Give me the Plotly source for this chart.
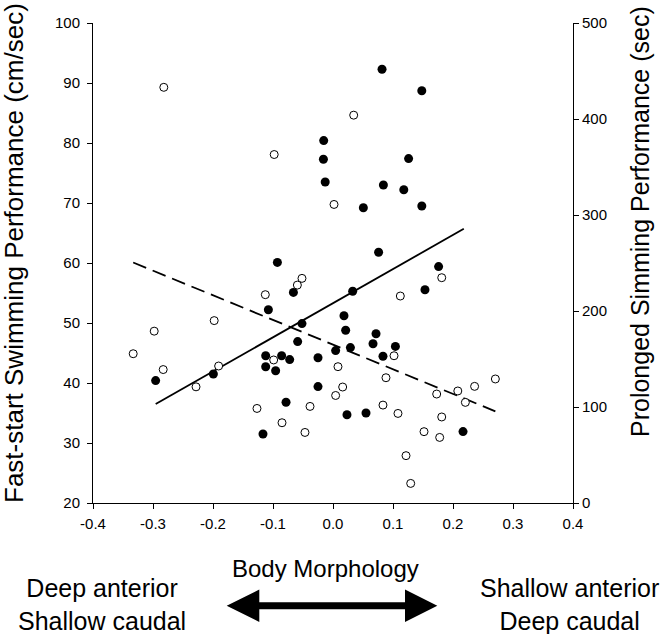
import plotly.graph_objects as go

# Fast-start swimming performance (cm/sec), filled circles, left axis
fast_x = [-0.0155, -0.016, -0.013, -0.0927, 0.0817, 0.148, 0.126, 0.084, 0.118, 0.0506,
          0.148, 0.076, -0.066, -0.1077, -0.0517, -0.0589, -0.1122, -0.0856, -0.0722, -0.025,
          0.0044, -0.1122, -0.0956, -0.2956, -0.1994, -0.025, -0.0783, -0.1167, 0.176, 0.0328,
          0.1533, 0.0183, 0.0211, 0.0717, 0.0667, 0.104, 0.029, 0.0833, 0.0233, 0.055, 0.2167]
fast_y = [80.4, 77.3, 73.5, 60.1, 92.3, 88.7, 77.4, 73.0, 72.2, 69.2,
          69.5, 61.8, 55.1, 52.2, 49.9, 46.9, 44.55, 44.55, 43.9, 44.2,
          45.4, 42.7, 42.05, 40.4, 41.5, 39.4, 36.8, 31.5, 59.4, 55.3,
          55.55, 51.2, 48.8, 48.2, 46.55, 46.1, 45.9, 44.45, 34.7, 35.0, 31.9]

# Prolonged swimming performance (sec), open circles, right axis
prol_x = [-0.282, -0.098, 0.0017, 0.0345, -0.0517, -0.0594, -0.1128, -0.198, -0.298, -0.333,
          -0.0989, 0.0083, -0.283, -0.1906, -0.2283, 0.0044, -0.0383, -0.1267, -0.085, -0.0467,
          0.1812, 0.1122, 0.1017, 0.0883, 0.0161, 0.2706, 0.236, 0.208, 0.1728, 0.2206,
          0.0833, 0.1083, 0.1812, 0.1517, 0.1778, 0.1217, 0.1295]
prol_y = [433, 363, 311, 404, 234, 227, 217, 190, 179, 155.5,
          149, 142, 139, 142.7, 121, 112, 100.6, 98.5, 83.6, 73.5,
          234.7, 215.6, 153.4, 130.5, 120.8, 129.2, 121.5, 116.7, 113.5, 104.8,
          102, 93.3, 89.6, 74.3, 68.3, 49.3, 20.4]

# Regression lines
fast_fit_x = [-0.2955, 0.218]
fast_fit_y = [36.5, 65.7]
prol_fit_x = [-0.333, 0.2706]
prol_fit_y = [250.5, 95.5]

x_ticks = [-0.4, -0.3, -0.2, -0.1, 0.0, 0.1, 0.2, 0.3, 0.4]
x_tick_text = ["-0.4", "-0.3", "-0.2", "-0.1", "0.0", "0.1", "0.2", "0.3", "0.4"]
y_ticks = [20, 30, 40, 50, 60, 70, 80, 90, 100]
y2_ticks = [0, 100, 200, 300, 400, 500]

FONT = "Liberation Sans, Arial, sans-serif"
W, H = 666, 634
L, R, T, B = 93, 93, 23, 131

fig = go.Figure()
fig.add_trace(go.Scatter(x=fast_fit_x, y=fast_fit_y, mode="lines",
                         line=dict(color="black", width=1.8), showlegend=False))
fig.add_trace(go.Scatter(x=prol_fit_x, y=prol_fit_y, mode="lines", yaxis="y2",
                         line=dict(color="black", width=1.8, dash="14px,7px"), showlegend=False))
fig.add_trace(go.Scatter(x=fast_x, y=fast_y, mode="markers",
                         marker=dict(color="black", size=9, line=dict(width=0)),
                         showlegend=False))
fig.add_trace(go.Scatter(x=prol_x, y=prol_y, mode="markers", yaxis="y2",
                         marker=dict(color="white", size=8, line=dict(color="black", width=1)),
                         showlegend=False))

axis_common = dict(showgrid=False, zeroline=False, showline=True, linecolor="black",
                   linewidth=1, ticks="outside", ticklen=5, tickcolor="black",
                   tickfont=dict(family=FONT, size=15, color="black"))

fig.update_layout(
    width=W, height=H,
    margin=dict(l=L, r=R, t=T, b=B),
    paper_bgcolor="white", plot_bgcolor="white",
    xaxis=dict(range=[-0.4, 0.4], tickvals=x_ticks, ticktext=x_tick_text,
               ticklabelstandoff=2, **axis_common),
    yaxis=dict(range=[20, 100], tickvals=y_ticks, ticklabelstandoff=4, **axis_common),
    yaxis2=dict(range=[0, 500], tickvals=y2_ticks, overlaying="y", side="right", **axis_common),
)

pw, ph = W - L - R, H - T - B


def px(x, y):
    return (x - L) / pw, (H - B - y) / ph


# axis titles as annotations (pixel-placed)
titles = [
    ("Fast-start Swimming Performance (cm/sec)", 14, 253, -90, 26),
    ("Prolonged Simming Performance (sec)", 640, 222, -90, 25),
    ("Body Morphology", 325, 568, 0, 24),
]
for text, cx, cy, ang, fs in titles:
    ax, ay = px(cx, cy)
    fig.add_annotation(x=ax, y=ay, xref="paper", yref="paper", text=text, showarrow=False,
                       textangle=ang, xanchor="center", yanchor="middle",
                       font=dict(family=FONT, size=fs, color="black"))

pts = [(226.7, 605.7), (259.3, 589.5), (259.3, 602.2), (405, 602.2), (405, 589.5),
       (437.3, 605.7), (405, 621.9), (405, 609.2), (259.3, 609.2), (259.3, 621.9)]
path = "M " + " L ".join(f"{px(a, b)[0]:.5f},{px(a, b)[1]:.5f}" for a, b in pts) + " Z"
fig.add_shape(type="path", xref="paper", yref="paper", path=path,
              fillcolor="black", line=dict(color="black", width=0))

for text, cx in [("Deep anterior<br>Shallow caudal", 102), ("Shallow anterior<br>Deep caudal", 569)]:
    ax, ay = px(cx, 604)
    fig.add_annotation(x=ax, y=ay, xref="paper", yref="paper", text=text, showarrow=False,
                       xanchor="center", yanchor="middle", align="center",
                       font=dict(family=FONT, size=25, color="black"))

fig.write_html("out.html", config={"displayModeBar": False},
               post_script="document.body.style.margin='0px';")
